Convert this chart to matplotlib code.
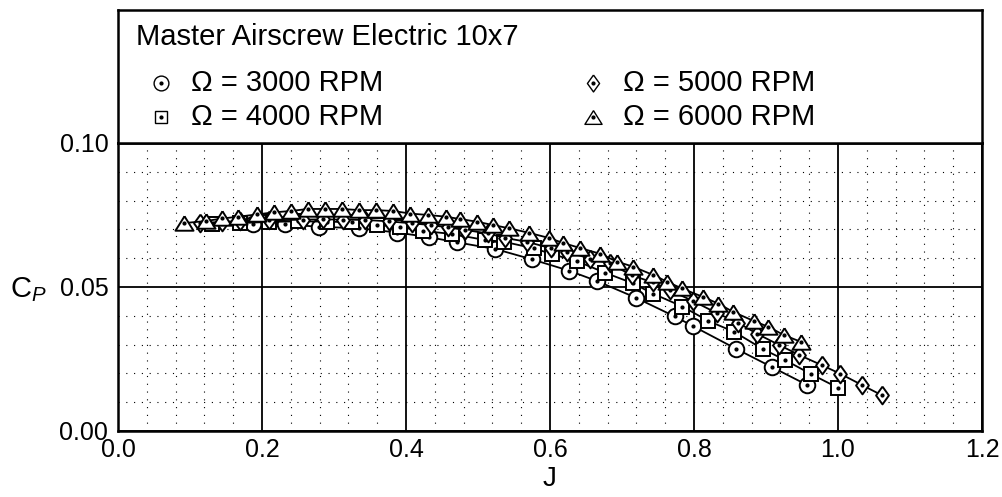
import matplotlib
matplotlib.use('Agg')
import matplotlib.pyplot as plt
from matplotlib.path import Path
from matplotlib.ticker import MultipleLocator

plt.rcParams['font.family'] = ['Liberation Sans', 'DejaVu Sans']
plt.rcParams['mathtext.fontset'] = 'custom'
plt.rcParams['mathtext.rm'] = 'Liberation Sans'
plt.rcParams['mathtext.it'] = 'Liberation Sans:italic'

# advance ratio J and power coefficient Cp
j_3000 = [0.188, 0.232, 0.279, 0.335, 0.388, 0.432, 0.471, 0.524, 0.575, 0.626,
          0.665, 0.719, 0.773, 0.798, 0.858, 0.909, 0.957]
cp_3000 = [0.0719, 0.0718, 0.0709, 0.0704, 0.0689, 0.0673, 0.0655, 0.0632, 0.0596, 0.0557,
           0.0521, 0.0463, 0.0398, 0.0365, 0.0286, 0.0221, 0.0160]

j_4000 = [0.13, 0.17, 0.21, 0.25, 0.29, 0.325, 0.360, 0.391, 0.423, 0.464, 0.510, 0.536,
          0.578, 0.603, 0.638, 0.676, 0.715, 0.743, 0.784, 0.820, 0.856, 0.896, 0.926,
          0.963, 1.000]
cp_4000 = [0.0718, 0.0722, 0.0726, 0.0728, 0.0727, 0.0725, 0.0716, 0.0708, 0.0695, 0.0684,
           0.0663, 0.0657, 0.0634, 0.0614, 0.0589, 0.0550, 0.0513, 0.0477, 0.0432, 0.0382,
           0.0344, 0.0284, 0.0247, 0.0197, 0.0150]

j_5000 = [0.114, 0.144, 0.169, 0.21, 0.257, 0.285, 0.312, 0.343, 0.376, 0.408, 0.435,
          0.458, 0.482, 0.514, 0.538, 0.568, 0.602, 0.623, 0.656, 0.683, 0.714, 0.743,
          0.767, 0.798, 0.832, 0.861, 0.888, 0.918, 0.946, 0.978, 1.003, 1.033, 1.061]
cp_5000 = [0.0722, 0.0726, 0.0729, 0.0731, 0.0734, 0.0735, 0.0734, 0.0733, 0.0728, 0.0721,
           0.0715, 0.0707, 0.0698, 0.0686, 0.0670, 0.0657, 0.0634, 0.0623, 0.0598, 0.0582,
           0.0540, 0.0516, 0.0488, 0.0452, 0.0409, 0.0376, 0.0337, 0.0299, 0.0264, 0.0228,
           0.0199, 0.0160, 0.0124]

j_6000 = [0.092, 0.122, 0.145, 0.167, 0.193, 0.216, 0.240, 0.264, 0.287, 0.311, 0.335,
          0.358, 0.382, 0.406, 0.431, 0.456, 0.475, 0.498, 0.521, 0.543, 0.571, 0.599,
          0.618, 0.641, 0.670, 0.693, 0.715, 0.743, 0.763, 0.783, 0.813, 0.834, 0.854,
          0.883, 0.903, 0.925, 0.948]
cp_6000 = [0.0722, 0.0729, 0.0738, 0.0744, 0.0752, 0.0759, 0.0764, 0.0771, 0.0771, 0.0771,
           0.0767, 0.0767, 0.0764, 0.0755, 0.0750, 0.0744, 0.0736, 0.0727, 0.0715, 0.0704,
           0.0688, 0.0670, 0.0653, 0.0636, 0.0615, 0.0588, 0.0571, 0.0542, 0.0518, 0.0495,
           0.0465, 0.0442, 0.0414, 0.0382, 0.0362, 0.0333, 0.0310]

labels = ['\u03a9 = 3000 RPM', '\u03a9 = 4000 RPM', '\u03a9 = 5000 RPM', '\u03a9 = 6000 RPM']
title = 'Master Airscrew Electric 10x7'
x_ticks = [0.0, 0.2, 0.4, 0.6, 0.8, 1.0, 1.2]
y_ticks = [0.00, 0.05, 0.10]

diamond = Path([(0, 1), (0.72, 0), (0, -1), (-0.72, 0), (0, 1)])
triangle = Path([(0, 0.8), (1, -0.8), (-1, -0.8), (0, 0.8)])

series = [
    (j_3000, cp_3000, 'o', 11.2),
    (j_4000, cp_4000, 's', 9.4),
    (j_5000, cp_5000, diamond, 12.8),
    (j_6000, cp_6000, triangle, 13.0),
]

fig = plt.figure(figsize=(10.02, 4.97), dpi=100)
ax = fig.add_axes([118 / 1002, 66 / 497, 864 / 1002, 288 / 497])
top = fig.add_axes([118 / 1002, 354 / 497, 864 / 1002, 133 / 497])

for i, (j, cp, m, ms) in enumerate(series):
    ax.plot(j, cp, '-', color='k', lw=1.3, marker=m, ms=ms, mfc='white', mec='k',
            mew=1.4, zorder=3 + i)
    ax.plot(j, cp, ls='none', marker='o', ms=2.0, color='k', zorder=3.5 + i)

ax.set_xlim(0, 1.2)
ax.set_ylim(0, 0.1)
ax.set_xticks(x_ticks)
ax.set_yticks(y_ticks)
ax.set_xticklabels(['%.1f' % v for v in x_ticks])
ax.set_yticklabels(['%.2f' % v for v in y_ticks])
ax.xaxis.set_minor_locator(MultipleLocator(0.04))
ax.yaxis.set_minor_locator(MultipleLocator(0.01))
ax.grid(which='major', color='k', lw=1.3, ls='-', zorder=1)
ax.grid(which='minor', color='k', lw=0.8, ls=(0, (1, 6)), zorder=1)
ax.set_axisbelow(True)
ax.tick_params(which='both', length=0, labelsize=18)
ax.tick_params(axis='y', pad=7)
ax.tick_params(axis='x', pad=5)
for s in ax.spines.values():
    s.set_linewidth(1.8)

fig.text(10 / 1002, (497 - 290) / 497, r'$\mathrm{C}_{P}$', fontsize=21,
         ha='left', va='center')
fig.text(550 / 1002, (497 - 479) / 497, 'J', fontsize=20, ha='center', va='center')

# legend box above the plot
top.set_xlim(0, 1)
top.set_ylim(0, 1)
top.set_xticks([])
top.set_yticks([])
for s in top.spines.values():
    s.set_linewidth(1.8)
top.text((136 - 118) / 864, (143 - 37) / 133, title, fontsize=21, ha='left', va='center')
pos = [(161, 83), (161, 117), (593, 83), (593, 117)]
for (px, py), (j, cp, m, ms), lab in zip(pos, series, labels):
    x = (px - 118) / 864
    y = (143 - py) / 133
    top.plot([x], [y], ls='none', marker=m, ms=ms * 0.95, mfc='white', mec='k', mew=1.0)
    top.plot([x], [y], ls='none', marker='o', ms=2.0, color='k')
    top.text(x + 30 / 864, y, lab, fontsize=21, ha='left', va='center')

fig.savefig('out.png', dpi=100)
